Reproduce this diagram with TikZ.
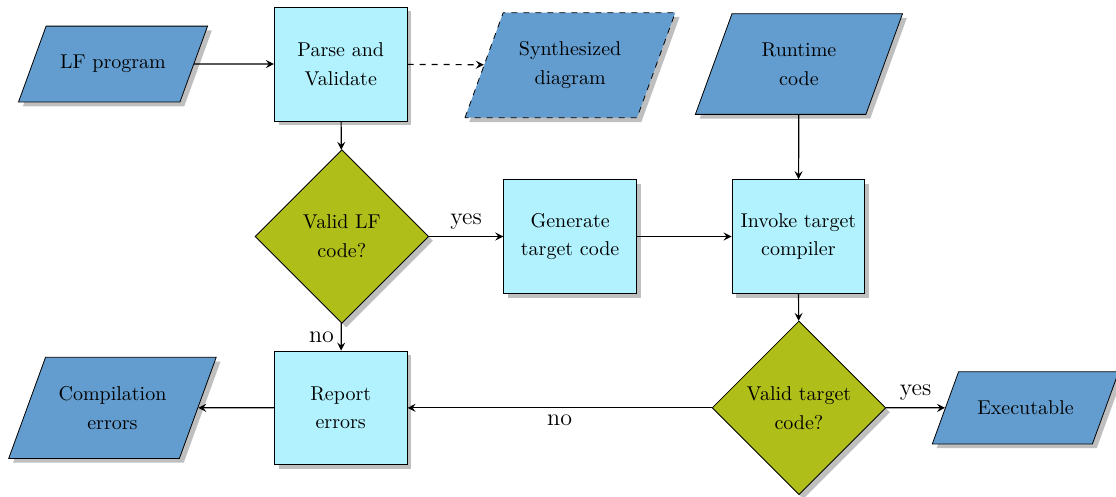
\documentclass[tikz,border=0pt]{standalone}
\usepackage{tikz}
\usetikzlibrary{positioning,arrows.meta,shapes.geometric,shadows}

\definecolor{iofill}{RGB}{99,157,207}
\definecolor{procfill}{RGB}{178,242,254}
\definecolor{decfill}{RGB}{176,190,26}

\begin{document}
\begin{tikzpicture}[>={Stealth[length=4pt,width=4pt,inset=1.5pt]},
  every node/.append style={font=\linespread{1.2}\selectfont},
  io/.style={trapezium,trapezium left angle=70,trapezium right angle=110,draw,fill=iofill,drop shadow,text width=2cm,align=center,inner xsep=5pt,inner ysep=14.5pt},
  proc/.style={rectangle,draw,fill=procfill,drop shadow,text width=2.1cm,align=center,minimum height=2cm},
  decide/.style={diamond,draw,fill=decfill,drop shadow,text width=1.9cm,align=center,minimum size=3.05cm,inner sep=0pt},
  line/.style={draw,semithick,->},
  lbl/.style={font=\large}]
  \useasboundingbox (-1.986,1.125) rectangle (17.62,-7.59);
  % top row: inputs and first pass
  \node[io] (lf) at (0,0) {LF program};
  \node[proc] (parse) at (4,0) {Parse and Validate};
  \node[io,dashed] (synth) at (8.03,-0.02) {Synthesized diagram};
  \node[io] (runtime) at (12.05,0) {Runtime code};
  % middle row
  \node[decide] (validlf) at (4.02,-3.03) {Valid LF code?};
  \node[proc] (gen) at (8.03,-3.03) {Generate target code};
  \node[proc] (invoke) at (12.04,-3.03) {Invoke target compiler};
  % bottom row
  \node[io] (comperr) at (-0.01,-6.04) {Compilation errors};
  \node[proc] (report) at (4,-6.04) {Report\\errors};
  \node[decide] (validtgt) at (12.05,-6.04) {Valid target code?};
  \node[io] (exec) at (16.03,-6.04) {Executable};

  \draw[line] (lf) -- (parse);
  \draw[line,dashed] (parse) -- (synth);
  \draw[line] (parse) -- (validlf);
  \draw[line] (validlf) -- node[lbl,above] {yes} (gen);
  \draw[line] (gen) -- (invoke);
  \draw[line] (runtime) -- (invoke);
  \draw[line] (invoke) -- (validtgt);
  \draw[line] (validtgt) -- node[lbl,above] {yes} (exec);
  \draw[line] (validtgt) -- node[lbl,below] {no} (report);
  \draw[line] (validlf) -- node[lbl,left] {no} (report);
  \draw[line] (report) -- (comperr);
\end{tikzpicture}
\end{document}
